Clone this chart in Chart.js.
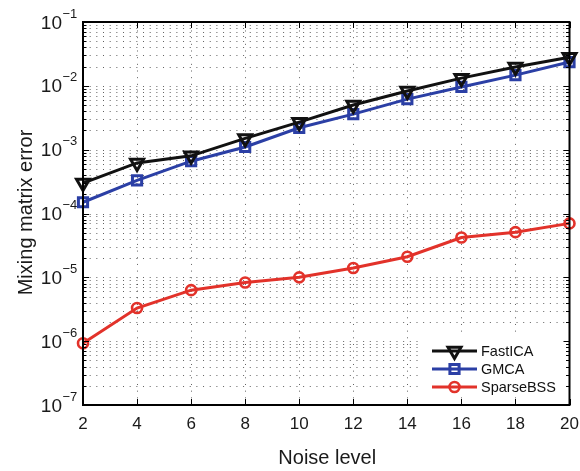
<!DOCTYPE html>
<html><head><meta charset="utf-8">
<script src="https://cdn.jsdelivr.net/npm/chart.js@4/dist/chart.umd.min.js"></script>
<style>html,body{margin:0;padding:0;background:#fff;}canvas{display:block;}</style>
</head><body>
<canvas id="c" width="580" height="471"></canvas>
<script>
const noiseLevels = [2, 4, 6, 8, 10, 12, 14, 16, 18, 20];
const fastICA   = [3.0e-4, 6.2e-4, 8.0e-4, 1.5e-3, 2.7e-3, 5.0e-3, 8.3e-3, 1.32e-2, 1.97e-2, 2.8e-2];
const gmca      = [1.5e-4, 3.3e-4, 6.6e-4, 1.1e-3, 2.2e-3, 3.6e-3, 6.2e-3, 9.6e-3, 1.47e-2, 2.36e-2];
const sparseBSS = [9.3e-7, 3.3e-6, 6.3e-6, 8.3e-6, 1.0e-5, 1.4e-5, 2.1e-5, 4.2e-5, 5.1e-5, 7.0e-5];
const xTickValues = [2, 4, 6, 8, 10, 12, 14, 16, 18, 20];
const yDecadeExponents = [-7, -6, -5, -4, -3, -2, -1];
const seriesNames = ['FastICA', 'GMCA', 'SparseBSS'];
const xTitle = 'Noise level';
const yTitle = 'Mixing matrix error';

const FONT = '"Liberation Sans", Arial, Helvetica, sans-serif';
const COLORS = ['#111111', '#2B3FA5', '#E2322A'];

function pts(vals) { return noiseLevels.map((n, i) => ({x: n, y: vals[i]})); }

const styles = [
  {pointStyle: 'triangle', rotation: 180, radius: 7.5, borderWidth: 3},
  {pointStyle: 'rect', rotation: 0, radius: 6.5, borderWidth: 3},
  {pointStyle: 'circle', rotation: 0, radius: 5, borderWidth: 2.6}
];

const datasets = [fastICA, gmca, sparseBSS].map((vals, i) => ({
  label: seriesNames[i],
  data: pts(vals),
  borderColor: COLORS[i],
  backgroundColor: 'rgba(0,0,0,0)',
  borderWidth: 3,
  pointStyle: styles[i].pointStyle,
  pointRotation: styles[i].rotation,
  pointRadius: styles[i].radius,
  pointBorderWidth: styles[i].borderWidth,
  pointBorderColor: COLORS[i],
  pointBackgroundColor: 'rgba(0,0,0,0)',
  tension: 0,
  clip: false
}));

const frame = {
  id: 'frame',
  beforeDraw(chart) {
    const ctx = chart.ctx;
    ctx.save(); ctx.fillStyle = '#fff'; ctx.fillRect(0, 0, chart.width, chart.height); ctx.restore();
  },
  beforeDatasetsDraw(chart) {
    const {ctx, chartArea: a, scales: {x, y}} = chart;
    ctx.save();
    ctx.strokeStyle = 'rgba(0,0,0,0.62)';
    ctx.lineWidth = 1;
    ctx.setLineDash([1, 5.67]);
    ctx.beginPath();
    for (let e = -7; e <= -2; e++) {
      for (let m = 1; m <= 9; m++) {
        const v = m * Math.pow(10, e);
        if (e === -7 && m === 1) continue;
        const py = Math.round(y.getPixelForValue(v)) + 0.5;
        ctx.moveTo(a.left, py); ctx.lineTo(a.right, py);
      }
    }
    xTickValues.forEach(v => {
      if (v === xTickValues[0] || v === xTickValues[xTickValues.length - 1]) return;
      const px = Math.round(x.getPixelForValue(v)) + 0.5;
      ctx.moveTo(px, a.bottom); ctx.lineTo(px, a.top);
    });
    ctx.stroke();
    ctx.restore();
  },
  afterDatasetsDraw(chart) {
    const ctx = chart.ctx;
    ctx.save();
    ctx.fillStyle = '#fff';
    ctx.fillRect(422, 335, 144, 62);
    chart.data.datasets.forEach((ds, i) => {
      const ry = 351 + i * 18;
      ctx.strokeStyle = ds.borderColor;
      ctx.lineWidth = 3;
      ctx.setLineDash([]);
      ctx.beginPath(); ctx.moveTo(432, ry); ctx.lineTo(477, ry); ctx.stroke();
      ctx.fillStyle = 'rgba(0,0,0,0)';
      ctx.lineWidth = styles[i].borderWidth;
      Chart.helpers.drawPoint(ctx, {
        pointStyle: styles[i].pointStyle, rotation: styles[i].rotation,
        radius: styles[i].radius, borderWidth: styles[i].borderWidth
      }, 454.5, ry);
      ctx.fillStyle = '#111';
      ctx.font = '14.5px ' + FONT;
      ctx.textAlign = 'left';
      ctx.textBaseline = 'middle';
      ctx.fillText(ds.label, 481, ry + 1);
    });
    ctx.restore();
  },
  afterDraw(chart) {
    const {ctx, chartArea: a, scales: {x, y}} = chart;
    ctx.save();
    ctx.strokeStyle = '#000';
    ctx.lineWidth = 1;
    ctx.beginPath();
    for (let e = -7; e <= -1; e++) {
      for (let m = 1; m <= 9; m++) {
        if (e === -1 && m > 1) break;
        const v = m * Math.pow(10, e);
        const py = Math.round(y.getPixelForValue(v)) + 0.5;
        const len = m === 1 ? 6 : 3.5;
        ctx.moveTo(a.left, py); ctx.lineTo(a.left + len, py);
        ctx.moveTo(a.right, py); ctx.lineTo(a.right - len, py);
      }
    }
    xTickValues.forEach(v => {
      const px = Math.round(x.getPixelForValue(v)) + 0.5;
      ctx.moveTo(px, a.bottom); ctx.lineTo(px, a.bottom - 6);
      ctx.moveTo(px, a.top); ctx.lineTo(px, a.top + 6);
    });
    ctx.stroke();
    ctx.lineWidth = 2;
    ctx.strokeRect(a.left, a.top, a.right - a.left, a.bottom - a.top);

    ctx.fillStyle = '#1a1a1a';
    ctx.textBaseline = 'alphabetic';
    yDecadeExponents.forEach(e => {
      const py = y.getPixelForValue(Math.pow(10, e));
      ctx.font = '19px ' + FONT;
      ctx.textAlign = 'right';
      ctx.fillText('10', 62, py + 6.5);
      ctx.font = '13px ' + FONT;
      ctx.textAlign = 'left';
      ctx.fillText('\u2212' + Math.abs(e), 62.5, py - 4.5);
    });
    ctx.font = '17px ' + FONT;
    ctx.textAlign = 'center';
    xTickValues.forEach(v => {
      ctx.fillText(String(v), x.getPixelForValue(v), 428.5);
    });
    ctx.font = '20px ' + FONT;
    ctx.fillText(xTitle, (a.left + a.right) / 2 + 1, 464);
    ctx.save();
    ctx.translate(32, (a.top + a.bottom) / 2 - 1);
    ctx.rotate(-Math.PI / 2);
    ctx.textAlign = 'center';
    ctx.fillText(yTitle, 0, 0);
    ctx.restore();
    ctx.restore();
  }
};

new Chart(document.getElementById('c'), {
  type: 'line',
  data: {datasets},
  options: {
    responsive: false,
    devicePixelRatio: 1,
    animation: false,
    events: [],
    layout: {padding: {top: 22, right: 9, left: 0, bottom: 0}},
    plugins: {legend: {display: false}, tooltip: {enabled: false}},
    scales: {
      x: {
        type: 'linear', min: 2, max: 20,
        ticks: {display: false}, grid: {display: false}, border: {display: false},
        afterFit(s) { s.height = 66; }
      },
      y: {
        type: 'logarithmic', min: 1e-7, max: 1e-1,
        ticks: {display: false}, grid: {display: false}, border: {display: false},
        afterFit(s) { s.width = 83; }
      }
    }
  },
  plugins: [frame]
});
</script>
</body></html>
